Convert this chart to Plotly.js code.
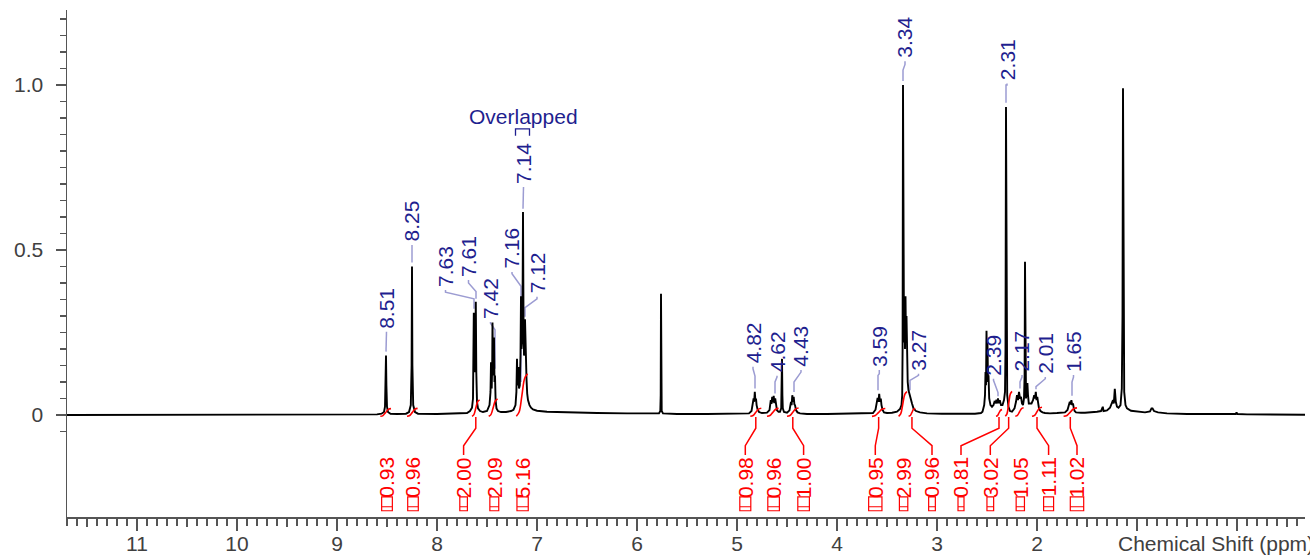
<!DOCTYPE html>
<html>
<head>
<meta charset="utf-8">
<script src="https://cdn.plot.ly/plotly-3.0.1.min.js"></script>
<style>
  html, body { margin: 0; padding: 0; background: #ffffff; }
  #chart { width: 1310px; height: 557px; }
</style>
</head>
<body>
<div id="chart"></div>
<script>
// 1H NMR spectrum, read as [chemical shift (ppm), relative intensity] points per region
const downfieldRegion = [
  [11.70, 0.000], [10.00, 0.000], [8.80, 0.001], [8.60, 0.002], [8.555, 0.004], [8.53, 0.009],
  [8.52, 0.025], [8.514, 0.09], [8.51, 0.18], [8.506, 0.09], [8.50, 0.025], [8.49, 0.009],
  [8.465, 0.004], [8.40, 0.003], [8.31, 0.004], [8.28, 0.009], [8.262, 0.03], [8.254, 0.15],
  [8.25, 0.45], [8.246, 0.15], [8.238, 0.03], [8.22, 0.009], [8.19, 0.004], [8.00, 0.003],
  [7.80, 0.004], [7.70, 0.006]
];
const aromaticRegionA = [
  [7.67, 0.012], [7.65, 0.022], [7.64, 0.05], [7.636, 0.15], [7.632, 0.31], [7.627, 0.14],
  [7.622, 0.13], [7.617, 0.22], [7.612, 0.343], [7.607, 0.13], [7.60, 0.04], [7.59, 0.02],
  [7.57, 0.012], [7.54, 0.009], [7.50, 0.012], [7.475, 0.03], [7.465, 0.07], [7.46, 0.16],
  [7.453, 0.08], [7.448, 0.15], [7.445, 0.28], [7.44, 0.14], [7.435, 0.12], [7.43, 0.235],
  [7.425, 0.10], [7.42, 0.12], [7.414, 0.045], [7.405, 0.02], [7.39, 0.012], [7.36, 0.009],
  [7.31, 0.009], [7.26, 0.012]
];
const aromaticRegionB = [
  [7.235, 0.016], [7.215, 0.03], [7.206, 0.07], [7.20, 0.17], [7.195, 0.09], [7.19, 0.10],
  [7.185, 0.145], [7.18, 0.08], [7.172, 0.09], [7.165, 0.18], [7.16, 0.36], [7.155, 0.20],
  [7.15, 0.22], [7.145, 0.30], [7.14, 0.615], [7.135, 0.30], [7.13, 0.18], [7.125, 0.20],
  [7.12, 0.29], [7.115, 0.17], [7.11, 0.20], [7.105, 0.11], [7.098, 0.065], [7.09, 0.045],
  [7.075, 0.03], [7.06, 0.022], [7.04, 0.017], [7.00, 0.013], [6.90, 0.010], [6.70, 0.008],
  [6.40, 0.006], [6.10, 0.005], [5.85, 0.004], [5.80, 0.004]
];
const olefinicRegion = [
  [5.78, 0.005], [5.767, 0.012], [5.763, 0.06], [5.76, 0.367], [5.757, 0.06], [5.753, 0.012],
  [5.74, 0.005], [5.60, 0.003], [5.30, 0.003], [5.00, 0.003], [4.90, 0.004]
];
const methineRegion = [
  [4.88, 0.005], [4.855, 0.012], [4.84, 0.035], [4.834, 0.05], [4.828, 0.04], [4.822, 0.07],
  [4.816, 0.042], [4.81, 0.05], [4.804, 0.03], [4.795, 0.018], [4.78, 0.009], [4.75, 0.006],
  [4.70, 0.007], [4.675, 0.015], [4.662, 0.045], [4.655, 0.034], [4.648, 0.055], [4.64, 0.038],
  [4.633, 0.058], [4.626, 0.036], [4.618, 0.05], [4.61, 0.025], [4.60, 0.014], [4.585, 0.010],
  [4.57, 0.010], [4.558, 0.02], [4.554, 0.06], [4.55, 0.17], [4.546, 0.06], [4.542, 0.02],
  [4.53, 0.009], [4.50, 0.007], [4.475, 0.014], [4.46, 0.04], [4.454, 0.03], [4.447, 0.06],
  [4.44, 0.04], [4.433, 0.055], [4.426, 0.032], [4.42, 0.03], [4.41, 0.015], [4.395, 0.008],
  [4.37, 0.005], [4.30, 0.003], [4.10, 0.003], [3.85, 0.004], [3.68, 0.006]
];
const midfieldRegion = [
  [3.64, 0.006], [3.615, 0.016], [3.60, 0.035], [3.594, 0.052], [3.586, 0.04], [3.578, 0.064],
  [3.57, 0.04], [3.562, 0.05], [3.555, 0.03], [3.545, 0.016], [3.53, 0.008], [3.50, 0.006],
  [3.45, 0.007], [3.40, 0.010], [3.37, 0.018], [3.355, 0.03], [3.348, 0.06], [3.344, 0.20],
  [3.34, 1.00], [3.336, 0.25], [3.33, 0.22], [3.325, 0.30], [3.32, 0.20], [3.315, 0.36],
  [3.31, 0.22], [3.305, 0.30], [3.30, 0.16], [3.293, 0.10], [3.285, 0.075], [3.278, 0.065],
  [3.27, 0.062], [3.262, 0.05], [3.25, 0.035], [3.235, 0.02], [3.21, 0.012], [3.17, 0.008],
  [3.10, 0.005], [2.95, 0.004], [2.75, 0.003], [2.62, 0.004], [2.56, 0.006]
];
const aliphaticRegion = [
  [2.545, 0.010], [2.528, 0.03], [2.52, 0.06], [2.515, 0.13], [2.51, 0.09], [2.505, 0.255],
  [2.50, 0.15], [2.495, 0.22], [2.49, 0.10], [2.485, 0.12], [2.478, 0.05], [2.465, 0.03],
  [2.45, 0.025], [2.435, 0.03], [2.425, 0.04], [2.415, 0.038], [2.405, 0.046], [2.398, 0.035],
  [2.39, 0.05], [2.382, 0.036], [2.372, 0.045], [2.36, 0.03], [2.345, 0.03], [2.33, 0.045],
  [2.32, 0.07], [2.315, 0.20], [2.31, 0.933], [2.305, 0.20], [2.298, 0.06], [2.285, 0.025],
  [2.27, 0.012], [2.25, 0.010], [2.225, 0.02], [2.21, 0.04], [2.20, 0.06], [2.19, 0.045],
  [2.18, 0.07], [2.17, 0.05], [2.16, 0.055], [2.15, 0.035], [2.14, 0.03], [2.13, 0.05],
  [2.124, 0.12], [2.12, 0.464], [2.116, 0.12], [2.11, 0.05], [2.102, 0.07], [2.096, 0.097],
  [2.09, 0.06], [2.082, 0.035], [2.07, 0.035], [2.055, 0.035], [2.04, 0.045], [2.028, 0.06],
  [2.02, 0.05], [2.012, 0.07], [2.005, 0.045], [1.997, 0.055], [1.99, 0.04], [1.98, 0.02],
  [1.965, 0.012], [1.945, 0.008], [1.92, 0.006], [1.87, 0.005], [1.80, 0.006], [1.72, 0.008],
  [1.695, 0.015], [1.68, 0.03], [1.672, 0.04], [1.664, 0.032], [1.656, 0.045], [1.648, 0.03],
  [1.64, 0.035], [1.632, 0.02], [1.624, 0.012], [1.61, 0.008], [1.59, 0.007], [1.56, 0.007],
  [1.52, 0.007]
];
const upfieldRegion = [
  [1.46, 0.008], [1.40, 0.010], [1.36, 0.012], [1.348, 0.025], [1.342, 0.025], [1.335, 0.012],
  [1.30, 0.014], [1.27, 0.022], [1.25, 0.035], [1.24, 0.045], [1.232, 0.035], [1.222, 0.079],
  [1.212, 0.04], [1.20, 0.025], [1.185, 0.022], [1.165, 0.03], [1.152, 0.08], [1.145, 0.30],
  [1.14, 0.99], [1.135, 0.30], [1.128, 0.07], [1.115, 0.03], [1.10, 0.02], [1.06, 0.013],
  [1.00, 0.010], [0.92, 0.008], [0.87, 0.011], [0.855, 0.02], [0.845, 0.02], [0.83, 0.012],
  [0.79, 0.008], [0.70, 0.005], [0.50, 0.003], [0.10, 0.002], [0.012, 0.003], [0.005, 0.008],
  [-0.005, 0.003], [-0.10, 0.002], [-0.68, 0.001]
];

// picked peaks (ppm)
const peakShifts = [8.51, 8.25, 7.63, 7.61, 7.42, 7.16, 7.14, 7.12, 4.82, 4.62, 4.43,
                    3.59, 3.34, 3.27, 2.39, 2.31, 2.17, 2.01, 1.65];

// integrated regions (ppm) and their integral values
const integralFrom  = [8.567, 8.30, 7.65, 7.483, 7.207, 4.867, 4.70, 4.50, 3.65, 3.384, 3.284, 2.41, 2.317, 2.217, 2.05, 1.734];
const integralTo    = [8.46, 8.194, 7.574, 7.394, 7.094, 4.757, 4.584, 4.384, 3.517, 3.30, 3.217, 2.35, 2.25, 2.134, 1.95, 1.60];
const integralValue = [0.93, 0.96, 2.00, 2.09, 5.16, 0.98, 0.96, 1.00, 0.95, 2.99, 0.96, 0.81, 3.02, 1.05, 1.11, 1.02];

// axis tick labels
const xTickVals  = [11, 10, 9, 8, 7, 6, 5, 4, 3, 2, 1, 0];
const xTickText  = ['11', '10', '9', '8', '7', '6', '5', '4', '3', '2', '', ''];
const yTickVals  = [0, 0.5, 1.0];
const yTickText  = ['0', '0.5', '1.0'];

// ---------- presentation ----------
const FONT = 'Liberation Sans, Arial, Helvetica, sans-serif';
const FS = 21;
const NAVY = '#1f1f8f';
const LAVENDER = '#9c9cd2';
const RED = '#ff0000';
const AXIS = '#555555';

// peak label placement: text centre (ppm), text foot (y), leader knees and end (y)
const peakLabelLayout = [
  {tx: 8.505, ty: 0.258, k1: 0.245, k2: 0.245, end: 0.192},
  {tx: 8.25,  ty: 0.521, k1: 0.505, k2: 0.505, end: 0.462},
  {tx: 7.915, ty: 0.385, k1: 0.372, k2: 0.352, end: 0.322},
  {tx: 7.685, ty: 0.415, k1: 0.400, k2: 0.374, end: 0.352},
  {tx: 7.465, ty: 0.288, k1: 0.278, k2: 0.258, end: 0.140},
  {tx: 7.25,  ty: 0.439, k1: 0.428, k2: 0.390, end: 0.100},
  {tx: 7.135, ty: 0.697, k1: 0.660, k2: 0.660, end: 0.625},
  {tx: 7.00,  ty: 0.364, k1: 0.352, k2: 0.325, end: 0.298},
  {tx: 4.84,  ty: 0.152, k1: 0.140, k2: 0.118, end: 0.080},
  {tx: 4.60,  ty: 0.125, k1: 0.115, k2: 0.100, end: 0.065},
  {tx: 4.36,  ty: 0.142, k1: 0.130, k2: 0.100, end: 0.070},
  {tx: 3.577, ty: 0.142, k1: 0.125, k2: 0.120, end: 0.075},
  {tx: 3.32,  ty: 1.078, k1: 1.062, k2: 1.045, end: 1.012},
  {tx: 3.185, ty: 0.131, k1: 0.120, k2: 0.105, end: 0.075},
  {tx: 2.435, ty: 0.116, k1: 0.105, k2: 0.068, end: 0.057},
  {tx: 2.30,  ty: 1.010, k1: 1.000, k2: 1.000, end: 0.946},
  {tx: 2.15,  ty: 0.127, k1: 0.115, k2: 0.100, end: 0.080},
  {tx: 1.917, ty: 0.121, k1: 0.110, k2: 0.086, end: 0.078},
  {tx: 1.635, ty: 0.127, k1: 0.115, k2: 0.100, end: 0.058}
];
// integral label centres (ppm)
const integralLabelX = [8.50, 8.24, 7.734, 7.427, 7.144, 4.917, 4.634, 4.334, 3.617, 3.334, 3.05, 2.76, 2.467, 2.167, 1.884, 1.60];
const INTEGRAL_SCALE = 0.025;   // curve rise per unit integral
const INTEGRAL_BASE = -0.004;
const LABEL_TOP = -0.125;
const BOX_TOP = -0.248, BOX_MID = -0.278, BOX_BOTTOM = -0.29;

// ---------- traces ----------
const spectrum = [].concat(downfieldRegion, aromaticRegionA, aromaticRegionB, olefinicRegion,
                           methineRegion, midfieldRegion, aliphaticRegion, upfieldRegion);

const leaderX = [], leaderY = [];
peakShifts.forEach((p, i) => {
  const L = peakLabelLayout[i];
  leaderX.push(L.tx, L.tx, p, p, null);
  leaderY.push(L.ty - 0.006, L.k1, L.k2, L.end, null);
});

const traces = [];
traces.push({
  type: 'scatter', mode: 'lines', x: leaderX, y: leaderY, hoverinfo: 'skip',
  line: {color: LAVENDER, width: 1.5}, connectgaps: false
});
traces.push({
  type: 'scatter', mode: 'lines',
  x: spectrum.map(d => d[0]), y: spectrum.map(d => d[1]),
  line: {color: '#000000', width: 1.9}, hoverinfo: 'skip'
});

// integral curves and their leaders
const intLeadX = [], intLeadY = [];
integralFrom.forEach((a, i) => {
  const b = integralTo[i];
  const w = a - b;
  const rise = integralValue[i] * INTEGRAL_SCALE;
  const mid = (a + b) / 2;
  traces.push({
    type: 'scatter', mode: 'lines', hoverinfo: 'skip',
    x: [a, a - 0.25 * w, mid, b + 0.25 * w, b],
    y: [INTEGRAL_BASE, INTEGRAL_BASE + 0.1 * rise, INTEGRAL_BASE + 0.5 * rise,
        INTEGRAL_BASE + 0.9 * rise, INTEGRAL_BASE + rise],
    line: {color: RED, width: 1.6, shape: 'spline', smoothing: 1}
  });
  const lx = integralLabelX[i];
  if (Math.abs(lx - mid) > 0.03) {
    intLeadX.push(mid, mid, lx, lx, null);
    intLeadY.push(-0.006, -0.040, -0.093, LABEL_TOP + 0.004, null);
  }
});
traces.push({
  type: 'scatter', mode: 'lines', x: intLeadX, y: intLeadY, hoverinfo: 'skip',
  line: {color: RED, width: 1.5}, connectgaps: false
});
// carrier for the half-unit tick axis
traces.push({type: 'scatter', mode: 'lines', x: [null], y: [null], xaxis: 'x2', hoverinfo: 'skip'});

// ---------- annotations & shapes ----------
const annotations = [];
const shapes = [];

peakShifts.forEach((p, i) => {
  const L = peakLabelLayout[i];
  annotations.push({
    x: L.tx, y: L.ty, xref: 'x', yref: 'y', text: p.toFixed(2), textangle: -90,
    showarrow: false, xanchor: 'center', yanchor: 'bottom', borderpad: 0,
    font: {family: FONT, size: FS, color: NAVY}
  });
});

annotations.push({
  x: 7.137, y: 0.904, xref: 'x', yref: 'y', text: 'Overlapped', showarrow: false,
  xanchor: 'center', yanchor: 'middle', font: {family: FONT, size: FS, color: NAVY}
});
shapes.push({
  type: 'path', xref: 'x', yref: 'y',
  path: 'M 7.215 0.846 L 7.215 0.867 L 7.075 0.867 L 7.075 0.846',
  line: {color: NAVY, width: 1.3}
});

integralValue.forEach((v, i) => {
  const lx = integralLabelX[i];
  const hw = (integralFrom[i] - integralTo[i]) / 2;
  annotations.push({
    x: lx, y: LABEL_TOP, xref: 'x', yref: 'y', text: v.toFixed(2), textangle: -90,
    showarrow: false, xanchor: 'center', yanchor: 'top', borderpad: 0,
    font: {family: FONT, size: FS, color: RED}
  });
  shapes.push({
    type: 'path', xref: 'x', yref: 'y',
    path: `M ${lx + hw} ${BOX_TOP} L ${lx + hw} ${BOX_BOTTOM} L ${lx - hw} ${BOX_BOTTOM} L ${lx - hw} ${BOX_TOP} Z ` +
          `M ${lx + hw} ${BOX_MID} L ${lx - hw} ${BOX_MID}`,
    line: {color: RED, width: 1.2}
  });
});

annotations.push({
  x: 0.8473, y: -0.052, xref: 'paper', yref: 'paper', text: 'Chemical Shift (ppm)',
  showarrow: false, xanchor: 'left', yanchor: 'middle',
  font: {family: FONT, size: FS, color: '#404040'}
});

const yMinor = [-0.05, 0.05, 0.10, 0.15, 0.20, 0.25, 0.30, 0.35, 0.40, 0.45, 0.55, 0.60,
                0.65, 0.70, 0.75, 0.80, 0.85, 0.90, 0.95, 1.05, 1.10, 1.15, 1.20];
const xHalf = [11.5, 10.5, 9.5, 8.5, 7.5, 6.5, 5.5, 4.5, 3.5, 2.5, 1.5, 0.5, -0.5];

const layout = {
  width: 1310, height: 557,
  margin: {l: 67, r: 5, t: 10, b: 40, pad: 0},
  paper_bgcolor: '#ffffff', plot_bgcolor: '#ffffff',
  showlegend: false,
  xaxis: {
    range: [11.70, -0.68], showgrid: false, zeroline: false,
    showline: true, linecolor: AXIS, linewidth: 1.5,
    ticks: 'outside', ticklen: 12, tickwidth: 1.5, tickcolor: AXIS,
    tickmode: 'array', tickvals: xTickVals, ticktext: xTickText,
    ticklabelstandoff: -5,
    tickfont: {family: FONT, size: FS, color: '#404040'},
    minor: {ticks: 'outside', dtick: 0.1, tick0: 0, ticklen: 7, tickwidth: 1.2, tickcolor: AXIS, showgrid: false}
  },
  xaxis2: {
    overlaying: 'x', anchor: 'y', side: 'bottom', range: [11.70, -0.68],
    showgrid: false, zeroline: false, showline: false, showticklabels: false,
    ticks: 'outside', ticklen: 9, tickwidth: 1.2, tickcolor: AXIS,
    tickmode: 'array', tickvals: xHalf
  },
  yaxis: {
    range: [-0.309, 1.227], showgrid: false, zeroline: false,
    showline: true, linecolor: AXIS, linewidth: 1.5,
    ticks: 'outside', ticklen: 10, tickwidth: 1.5, tickcolor: AXIS,
    tickmode: 'array', tickvals: yTickVals, ticktext: yTickText,
    ticklabelstandoff: 8,
    tickfont: {family: FONT, size: FS, color: '#404040'},
    minor: {ticks: 'outside', tickmode: 'array', tickvals: yMinor, ticklen: 6, tickwidth: 1.2, tickcolor: AXIS, showgrid: false}
  },
  annotations: annotations,
  shapes: shapes
};

Plotly.newPlot('chart', traces, layout, {displayModeBar: false, staticPlot: true});
</script>
</body>
</html>
